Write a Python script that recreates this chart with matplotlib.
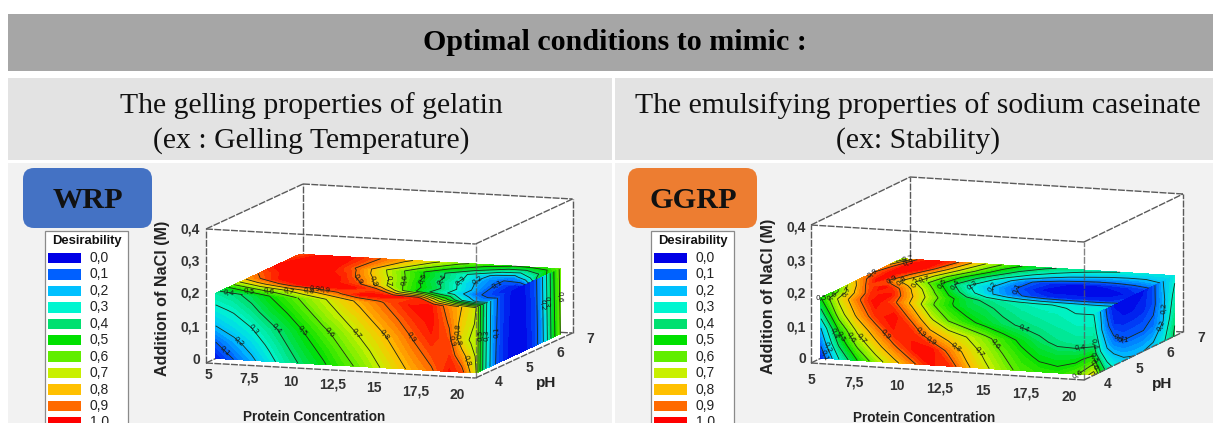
import numpy as np
import matplotlib
matplotlib.use("Agg")
import matplotlib.pyplot as plt
from matplotlib.colors import LinearSegmentedColormap
from matplotlib.patches import FancyBboxPatch, Rectangle, Polygon

# ---------- text ----------
TITLE = "Optimal conditions to mimic :"
LEFT_HEAD = "The gelling properties of gelatin\n(ex : Gelling Temperature)"
RIGHT_HEAD = "The emulsifying properties of sodium caseinate\n(ex: Stability)"
LEGEND_VALUES = [0.0, 0.1, 0.2, 0.3, 0.4, 0.5, 0.6, 0.7, 0.8, 0.9, 1.0]
LEGEND_COLORS = ["#0000e6", "#0060ff", "#00c0ff", "#00f5d0", "#00e070", "#00e000",
                 "#60ee00", "#c8f000", "#ffc000", "#ff6a00", "#ff0000"]
CONC_TICKS = [5, 7.5, 10, 12.5, 15, 17.5, 20]
PH_TICKS = [4, 5, 6, 7]
NACL_TICKS = [0, 0.1, 0.2, 0.3, 0.4]
LEVELS = [0.1, 0.2, 0.3, 0.4, 0.5, 0.6, 0.7, 0.8, 0.9]

# ---------- WRP surface values ----------
wrp_front_c = [5, 6, 7, 8, 9, 10, 11, 12, 13, 14, 15, 16, 17, 18, 18.7, 19.2, 19.5]
wrp_front_z = [0, 0.049, 0.0975, 0.146, 0.195]
wrp_front = [
    [.02, .10, .18, .27, .36, .43, .49, .56, .62, .69, .76, .83, .89, .98, .93, .79, .70],
    [.10, .17, .24, .32, .40, .47, .53, .60, .66, .73, .80, .87, .93, .95, .84, .74, .69],
    [.20, .25, .30, .37, .44, .51, .58, .64, .71, .77, .84, .91, .97, .92, .74, .69, .68],
    [.28, .31, .37, .44, .50, .57, .64, .70, .76, .83, .89, .95, .99, .89, .77, .72, .69],
    [.35, .38, .43, .50, .56, .63, .69, .76, .82, .88, .94, .99, .98, .86, .80, .74, .70],
]
wrp_top_c = [5, 6.5, 8, 9.5, 11, 12.5, 14, 15.5, 17, 18, 19, 19.5]
wrp_top_p = [4.3, 4.69, 5.08, 5.33, 5.73, 5.99, 6.25, 6.9]
wrp_top = [
    [.35, .40, .50, .60, .69, .79, .88, .97, .98, .86, .75, .70],
    [.50, .60, .68, .78, .88, 1, 1, .95, .55, .30, .15, .15],
    [.72, .85, .97, 1, 1, .92, .60, .40, .25, .12, .07, .07],
    [.85, .97, 1, 1, .93, .72, .55, .42, .25, .12, .04, .03],
    [.92, 1, 1, .97, .82, .65, .48, .34, .18, .10, .03, .02],
    [.97, 1, 1, .93, .75, .60, .46, .33, .16, .10, .12, .25],
    [.98, 1, 1, .88, .70, .55, .42, .30, .18, .15, .30, .45],
    [.92, 1, .98, .90, .82, .72, .62, .55, .50, .52, .55, .60],
]
wrp_right_p = [4.3, 4.45, 4.6, 4.75, 4.9, 5.05, 5.2, 5.5, 5.8, 6.1, 6.3, 6.5, 6.7, 6.9]
wrp_right_z = [0, 0.195]
wrp_right = [
    [.68, .45, .30, .18, .10, .06, .03, 0, .01, .06, .14, .30, .48, .60],
    [.70, .47, .32, .20, .12, .07, .04, .01, .02, .07, .16, .32, .50, .62],
]

# ---------- GGRP surface values ----------
gg_front_c = [5, 6, 7, 8, 9, 10, 11, 12, 13, 14, 15, 16, 17, 18, 19, 20]
gg_front_z = [0, 0.044, 0.0875, 0.131, 0.175]
gg_front = [
    [.03, .30, .50, .65, .77, .88, .98, .96, .82, .72, .64, .57, .54, .53, .58, .75],
    [.12, .42, .62, .76, .88, .98, 1, .88, .77, .68, .60, .53, .48, .46, .47, .55],
    [.20, .52, .72, .85, .97, .97, .84, .76, .70, .63, .55, .48, .42, .38, .37, .38],
    [.36, .65, .82, .95, 1, .88, .72, .60, .53, .47, .42, .39, .37, .35, .33, .33],
    [.50, .72, .88, 1, .92, .78, .62, .52, .45, .42, .38, .35, .33, .32, .30, .30],
]
gg_top_c = [5, 6, 7, 8, 9, 10, 11, 12, 13, 14, 15, 16, 17, 18, 19, 20]
gg_top_p = [4.3, 4.7, 5.1, 5.5, 5.9, 6.3, 6.75]
gg_top = [
    [.50, .72, .88, 1, .92, .78, .62, .52, .45, .42, .38, .35, .33, .32, .30, .30],
    [.55, .78, .95, 1, .85, .70, .56, .46, .40, .36, .33, .31, .30, .29, .28, .27],
    [.70, .90, 1, .88, .72, .56, .42, .30, .20, .13, .08, .05, .04, .04, .04, .06],
    [.85, 1, .82, .70, .56, .42, .30, .22, .14, .07, .02, 0, .01, 0, .01, .04],
    [.90, 1, .90, .75, .60, .47, .36, .26, .15, .08, .04, .02, .02, .03, .05, .08],
    [.85, 1, 1, .85, .70, .58, .46, .37, .30, .25, .20, .18, .16, .16, .17, .20],
    [.60, .95, 1, .92, .78, .65, .55, .47, .42, .38, .35, .32, .30, .28, .27, .27],
]
gg_right_p = [4.3, 4.5, 4.7, 4.9, 5.2, 5.5, 5.8, 6.1, 6.4, 6.75]
gg_right_z = [0, 0.06, 0.12, 0.175]
gg_right = [
    [.75, .50, .35, .28, .22, .20, .20, .22, .28, .42],
    [.45, .30, .20, .14, .10, .10, .10, .12, .20, .38],
    [.35, .22, .12, .05, .03, .03, .04, .08, .18, .33],
    [.30, .20, .08, .02, 0, 0, .02, .08, .20, .28],
]

# ---------- set-up ----------
W, H = 1213, 423
fig = plt.figure(figsize=(W / 100, H / 100), dpi=100)
ax = fig.add_axes([0, 0, 1, 1])
ax.set_xlim(0, W)
ax.set_ylim(H, 0)
ax.axis("off")

SERIF = ["Liberation Serif", "DejaVu Serif"]
SANS = ["Liberation Sans", "DejaVu Sans"]
cmap = LinearSegmentedColormap.from_list("desir", LEGEND_COLORS)


def comma(v):
    return f"{v:g}".replace(".", ",")


def spots(origin, pts):
    return [(origin[0] + x / 3, origin[1] + y / 3) for x, y in pts]


W_Z = (210, 245)
wrp_lab_front = spots(W_Z, [(128, 255), (200, 250), (280, 255), (362, 262), (442, 265), (520, 270),
                            (600, 278), (715, 290), (735, 290), (765, 255), (90, 285), (50, 310),
                            (780, 345)])
wrp_lab_top = spots(W_Z, [(55, 148), (115, 148), (175, 145), (235, 140), (295, 135), (345, 125),
                          (325, 30), (440, 108), (490, 108), (540, 108), (595, 108), (650, 110),
                          (705, 115), (760, 120), (815, 122), (865, 128)])
wrp_lab_right = spots(W_Z, [(855, 262), (990, 180), (1015, 170), (1045, 155), (810, 270), (830, 270)])
G_Z = (815, 245)
gg_lab_front = spots(G_Z, [(55, 265), (85, 270), (115, 272), (150, 272), (205, 275), (290, 283),
                           (345, 290), (425, 305), (505, 310), (555, 285), (625, 253), (30, 310),
                           (20, 335), (775, 380), (795, 310)])
gg_lab_top = spots(G_Z, [(10, 160), (50, 150), (100, 140), (180, 95), (230, 100), (260, 105),
                         (300, 108), (330, 110), (380, 110), (420, 112), (470, 115), (530, 118),
                         (600, 125), (280, 35), (280, 55)])
gg_lab_right = spots(G_Z, [(1040, 190), (1045, 245), (920, 262), (925, 310), (820, 295), (790, 345),
                           (795, 365)])

# ---------- page blocks ----------
ax.add_patch(Rectangle((8, 14), 1205, 57, fc="#a6a6a6", ec="none"))
ax.add_patch(Rectangle((8, 78), 604, 82, fc="#e3e3e3", ec="none"))
ax.add_patch(Rectangle((615, 78), 598, 82, fc="#e3e3e3", ec="none"))
ax.add_patch(Rectangle((8, 163), 604, 260, fc="#f2f2f2", ec="none"))
ax.add_patch(Rectangle((615, 163), 598, 260, fc="#f2f2f2", ec="none"))
ax.text(615, 43, TITLE, family=SERIF, weight="bold", fontsize=21.6, ha="center",
        va="center", color="black")
ax.text(311, 123, LEFT_HEAD, family=SERIF, fontsize=21.4, ha="center", va="center",
        color="#111111", linespacing=1.42)
ax.text(918, 123, RIGHT_HEAD, family=SERIF, fontsize=21.4, ha="center", va="center",
        color="#111111", linespacing=1.42)


def panel(name, tag_x, tag_color, origin, ex, ey, ez, sc, sp, sz,
          front, top, right, labs, leg_x, conc_lab, conc_step, nacl_x, nacl_ys, ph_lab,
          ph_label, conc_label, y_label):
    ox, oy = origin

    def proj(c, p, z):
        c, p, z = np.asarray(c, float), np.asarray(p, float), np.asarray(z, float)
        dc, dp, dz = (c - 5) / 15, (p - 4) / 3, z / 0.4
        return ox + dc * ex[0] + dp * ey[0] + dz * ez[0], oy + dc * ex[1] + dp * ey[1] + dz * ez[1]

    # tag
    ax.add_patch(FancyBboxPatch((tag_x, 168), 129, 60, boxstyle="round,pad=0,rounding_size=11",
                                fc=tag_color, ec="none", mutation_aspect=1))
    ax.text(tag_x + 65, 200, name, family=SERIF, weight="bold", fontsize=21.8, ha="center",
            va="center", color="#111111")

    # legend
    ax.add_patch(Rectangle((leg_x, 231), 83, 195, fc="white", ec="#8a8a8a", lw=0.9))
    ax.text(leg_x + 41.5, 241, "Desirability", family=SANS, weight="bold", fontsize=9.4,
            ha="center", va="center", color="#111111")
    for i, (v, col) in enumerate(zip(LEGEND_VALUES, LEGEND_COLORS)):
        yc = 258 + i * 16.45
        ax.add_patch(Rectangle((leg_x + 2.5, yc - 5.2), 33, 10.4, fc=col, ec="none"))
        ax.text(leg_x + 45, yc, f"{v:.1f}".replace(".", ","), family=SANS, fontsize=10,
                ha="left", va="center", color="#222222")

    # white box interior
    corners = [proj(5, 4, 0), proj(20, 4, 0), proj(20, 7, 0), proj(20, 7, 0.4),
               proj(5, 7, 0.4), proj(5, 4, 0.4)]
    ax.add_patch(Polygon([tuple(map(float, q)) for q in corners],
                         closed=True, fc="white", ec="none", zorder=1))

    line = dict(color="#5a5a5a", lw=1.0, ls=(0, (5, 1)), zorder=2)

    def seg(a, b, **kw):
        xa, ya = proj(*a)
        xb, yb = proj(*b)
        ax.plot([xa, xb], [ya, yb], **{**line, **kw})

    seg((5, 7, 0), (5, 7, 0.4))
    seg((5, 7, 0.4), (20, 7, 0.4))
    seg((5, 7, 0), (20, 7, 0))
    seg((5, 4, 0), (5, 7, 0))
    seg((20, 7, 0), (20, 7, 0.4))

    # surfaces
    fine = np.linspace(0, 1, 41)

    def surf(X, Y, Z, where):
        Z = np.clip(np.asarray(Z, float), 0, 1)
        ax.contourf(X, Y, Z, levels=fine, cmap=cmap, vmin=0, vmax=1, zorder=3)
        ax.contourf(X, Y, Z, levels=fine, cmap=cmap, vmin=0, vmax=1, zorder=3)
        cs = ax.contour(X, Y, Z, levels=LEVELS, colors="#1a2a1a", linewidths=0.6, zorder=4)
        ax.clabel(cs, fontsize=5.2, inline=False, colors="#151515", fmt=comma, manual=where)

    cc, zz = np.meshgrid(front[0], front[1])
    X, Y = proj(cc, sp, zz)
    surf(X, Y, front[2], labs[0])
    cc, pp = np.meshgrid(top[0], top[1])
    X, Y = proj(cc, pp, sz)
    surf(X, Y, top[2], labs[1])
    pp, zz = np.meshgrid(right[0], right[1])
    X, Y = proj(sc, pp, zz)
    surf(X, Y, right[2], labs[2])

    # front frame
    seg((5, 4, 0), (20, 4, 0), zorder=5)
    seg((5, 4, 0), (5, 4, 0.4), zorder=5)
    seg((5, 4, 0.4), (20, 4, 0.4), zorder=5)
    seg((20, 4, 0), (20, 4, 0.4), zorder=5, alpha=0.75)
    seg((5, 4, 0.4), (5, 7, 0.4), zorder=5)
    seg((20, 4, 0.4), (20, 7, 0.4), zorder=5)
    seg((20, 4, 0), (20, 7, 0), zorder=5)

    # tick labels
    tick = dict(family=SANS, weight="bold", fontsize=10, ha="center", va="center",
                color="#333333", zorder=6)
    for c in CONC_TICKS:
        i = (c - 5) / 2.5
        ax.text(conc_lab[0] + i * conc_step[0], conc_lab[1] + i * conc_step[1], comma(c), **tick)
    for n, y in zip(NACL_TICKS, nacl_ys):
        ax.text(nacl_x, y, comma(n), **{**tick, "ha": "right"})
    for i, p in enumerate(PH_TICKS):
        ax.text(ph_lab[0] + i * ph_lab[2], ph_lab[1] + i * ph_lab[3], comma(p), **tick)
    lab = dict(family=SANS, weight="bold", color="#222222", ha="center", va="center", zorder=6)
    ax.text(*ph_label, "pH", fontsize=11, **lab)
    ax.text(*conc_label, "Protein Concentration", fontsize=9.8, **lab)
    ax.text(*y_label, "Addition of NaCl (M)", fontsize=11.6, rotation=90, **lab)


panel("WRP", 23, "#4472c4", (206, 363), (269.5, 15), (97, -45), (0, -134), 19.5, 4.3, 0.195,
      (wrp_front_c, wrp_front_z, wrp_front), (wrp_top_c, wrp_top_p, wrp_top),
      (wrp_right_p, wrp_right_z, wrp_right), (wrp_lab_front, wrp_lab_top, wrp_lab_right), 45,
      (208, 375), (41.5, 3.3), 200, [360, 327, 294, 262, 229], (499, 382, 30.5, -14.3),
      (546, 383), (314, 417), (163, 298))

panel("GGRP", 628, "#ed7d31", (811, 363), (273, 17), (99, -48), (0, -138), 20, 4.3, 0.175,
      (gg_front_c, gg_front_z, gg_front), (gg_top_c, gg_top_p, gg_top),
      (gg_right_p, gg_right_z, gg_right), (gg_lab_front, gg_lab_top, gg_lab_right), 651,
      (811, 380), (43, 2.8), 806, [359, 327, 293, 262, 228], (1108, 384, 31, -15.3),
      (1162, 384), (924, 418), (769, 296))

fig.savefig("out.png", dpi=100)
